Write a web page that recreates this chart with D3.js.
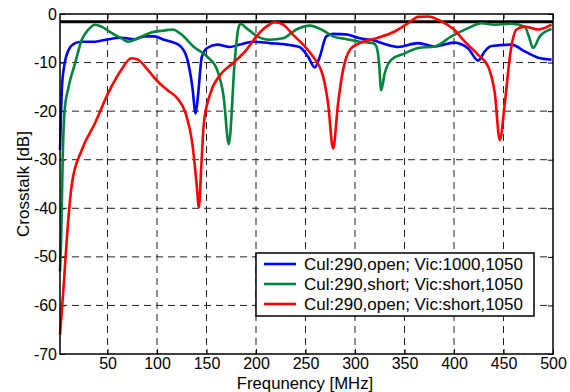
<!DOCTYPE html>
<html>
<head>
<meta charset="utf-8">
<script src="https://cdn.jsdelivr.net/npm/d3@7"></script>
<style>
  body { margin: 0; background: #fff; }
  text { font-family: "Liberation Sans", Arial, sans-serif; }
</style>
</head>
<body>
<div id="chart"></div>
<script>
// frequency [MHz] / crosstalk [dB]
var blueF = [2, 4, 6, 10.7, 17.3, 24, 37.3, 50.7, 64, 77.3, 87.3, 97.3, 107, 117, 124, 130.7, 135.7, 139, 141.3, 145.3, 150.7, 160.7, 173.5, 183.6, 197, 214, 231, 244, 252.6, 259.4, 264.4, 271, 278, 291, 304.8, 318.3, 331.7, 343.6, 363.8, 380.6, 400, 414.3, 424.4, 431, 437.8, 458, 471.5, 485, 498.5];
var blueDb = [-28, -15, -11, -7.4, -6.0, -5.7, -5.7, -5.2, -4.9, -5.2, -4.6, -4.6, -5.3, -5.9, -6.7, -9.4, -15, -20.5, -17, -8.8, -7, -6.3, -6.8, -6.3, -5.7, -6.0, -6.3, -6.8, -8.8, -11, -8.8, -4.6, -4.1, -4.2, -5.0, -5.4, -6.3, -6.8, -6.0, -6.7, -5.9, -7.1, -9.6, -7.7, -6.6, -6.3, -7.7, -9, -9.4];

var greenF = [2, 3.3, 4.7, 6.7, 10.7, 17.3, 24, 30.7, 37.3, 44, 54, 64, 70.7, 80.7, 94, 107.3, 115.7, 124, 137.3, 150.7, 160.7, 167.3, 172.5, 178.6, 181.9, 184.3, 190.3, 200.4, 213.9, 227.4, 240.8, 254.3, 267.8, 277.9, 291.4, 304.8, 318.3, 321.6, 324.3, 326.4, 330, 336.8, 350.3, 363.8, 380.6, 397.4, 414.3, 427.7, 441.2, 458, 471.5, 475.6, 479.9, 486.7, 498.5];
var greenDb = [-53, -45, -30, -19.8, -15, -10.1, -5.3, -3.2, -2.2, -2.6, -3.9, -5.0, -5.7, -5.0, -3.8, -3.4, -3.2, -4.1, -6.8, -8.8, -11.5, -17, -26.8, -9.4, -3.2, -2.0, -2.9, -4.5, -5.3, -5.0, -3.2, -2.4, -3.4, -4.6, -5.2, -5.7, -6.0, -6.7, -10.1, -15.7, -12.2, -9.4, -8.1, -7.0, -6.7, -4.6, -2.9, -1.9, -2.2, -2.0, -2.6, -4.6, -7.0, -4.6, -3.1];

var redF = [2, 5.7, 9, 14, 24, 37.3, 50.7, 64, 74, 80.7, 90.7, 100.7, 110.7, 120.7, 129, 135.7, 140, 142.3, 144.7, 147.3, 154, 164, 176.9, 190.3, 200.4, 210.5, 218.9, 227.4, 237.5, 247.6, 257.7, 267.8, 272.8, 277.9, 282.9, 288, 294.7, 304.8, 321.6, 340, 353.7, 363.8, 373.9, 387.3, 400, 410.9, 424.4, 434.5, 441.2, 446.3, 451.3, 457.4, 463.1, 471.5, 485, 498.5];
var redDb = [-66, -56, -46, -35, -28, -22.5, -16.3, -11.5, -9.1, -9.4, -11.5, -13.9, -15.7, -17.4, -20.5, -26.7, -35, -39.8, -31.5, -22.5, -16.3, -12.5, -10.1, -7.4, -4.6, -2.6, -1.7, -2.2, -4.3, -6.3, -8.8, -12.9, -18.4, -27.7, -18.4, -11.5, -7.4, -6.0, -5.0, -3.6, -1.9, -0.6, -0.5, -1.5, -3.2, -5.7, -8.4, -10.8, -16.3, -26, -18.4, -7.4, -3.2, -2.6, -3.2, -2.2];

var limitDb = -1.6;

var seriesNames = ["Cul:290,open; Vic:1000,1050", "Cul:290,short; Vic:short,1050", "Cul:290,open; Vic:short,1050"];
var seriesColors = ["#0000ff", "#00843d", "#ff0000"];

var xTicks = [50, 100, 150, 200, 250, 300, 350, 400, 450, 500];
var yTicks = [0, -10, -20, -30, -40, -50, -60, -70];

var margin = { top: 14, right: 17, bottom: 38, left: 60 },
    width = 570 - margin.left - margin.right,
    height = 392 - margin.top - margin.bottom;

var x = d3.scaleLinear().domain([2, 500]).range([0, width]);
var y = d3.scaleLinear().domain([-70, 0]).range([height, 0]);

var svg = d3.select("#chart").append("svg")
    .attr("width", 570)
    .attr("height", 392)
    .append("g")
    .attr("transform", "translate(" + margin.left + "," + margin.top + ")");

// dashed grid
svg.selectAll(".vgrid")
    .data(xTicks.slice(0, -1))
    .enter().append("line")
    .attr("x1", function (d) { return x(d); })
    .attr("x2", function (d) { return x(d); })
    .attr("y1", 0).attr("y2", height)
    .attr("stroke", "#222").attr("stroke-width", 1)
    .attr("stroke-dasharray", "7,5");
svg.selectAll(".hgrid")
    .data(yTicks.slice(1, -1))
    .enter().append("line")
    .attr("y1", function (d) { return y(d); })
    .attr("y2", function (d) { return y(d); })
    .attr("x1", 0).attr("x2", width)
    .attr("stroke", "#222").attr("stroke-width", 1)
    .attr("stroke-dasharray", "7,5");

// axes
svg.append("g")
    .attr("transform", "translate(0," + height + ")")
    .call(d3.axisBottom(x).tickValues(xTicks).tickSize(-5).tickPadding(4));
svg.append("g")
    .call(d3.axisLeft(y).tickValues(yTicks).tickSize(-5).tickPadding(3)
        .tickFormat(function (d) { return d; }));
svg.append("g")
    .attr("transform", "translate(" + width + ",0)")
    .call(d3.axisRight(y).tickValues(yTicks).tickSize(-5).tickFormat(""));
svg.append("g")
    .call(d3.axisTop(x).tickValues(xTicks).tickSize(-5).tickFormat(""));
svg.selectAll(".domain").remove();
svg.selectAll(".tick line").attr("stroke", "#000");
svg.selectAll(".tick text").attr("font-size", 16).attr("fill", "#000")
    .style("font-family", "'Liberation Sans', Arial, sans-serif");

// reference line
svg.append("line")
    .attr("x1", 0).attr("x2", width)
    .attr("y1", y(limitDb)).attr("y2", y(limitDb))
    .attr("stroke", "#000").attr("stroke-width", 3);

// series
var line = d3.line()
    .x(function (d) { return x(d[0]); })
    .y(function (d) { return y(d[1]); })
    .curve(d3.curveMonotoneX);

var series = [d3.zip(blueF, blueDb), d3.zip(greenF, greenDb), d3.zip(redF, redDb)];
svg.append("g").selectAll("path")
    .data(series)
    .enter().append("path")
    .attr("d", line)
    .attr("fill", "none")
    .attr("stroke", function (d, i) { return seriesColors[i]; })
    .attr("stroke-width", 2.6)
    .attr("stroke-linejoin", "round");

// frame
svg.append("rect")
    .attr("width", width).attr("height", height)
    .attr("fill", "none").attr("stroke", "#000").attr("stroke-width", 1.5);

// legend
var legend = svg.append("g").attr("transform", "translate(" + (256 - margin.left) + "," + (253 - margin.top) + ")");
legend.append("rect")
    .attr("width", 278).attr("height", 63)
    .attr("fill", "#fff").attr("stroke", "#000").attr("stroke-width", 1.5);
seriesNames.forEach(function (name, i) {
    legend.append("line")
        .attr("x1", 8).attr("x2", 40)
        .attr("y1", 11 + i * 20).attr("y2", 11 + i * 20)
        .attr("stroke", seriesColors[i]).attr("stroke-width", 2.6);
    legend.append("text")
        .attr("x", 48).attr("y", 17 + i * 20)
        .attr("font-size", 17)
        .text(name);
});

// axis labels
svg.append("text")
    .attr("x", 305 - margin.left).attr("y", 389 - margin.top)
    .attr("text-anchor", "middle").attr("font-size", 16.7)
    .text("Frequnency [MHz]");
svg.append("text")
    .attr("transform", "translate(" + (29 - margin.left) + "," + (184 - margin.top) + ") rotate(-90)")
    .attr("text-anchor", "middle").attr("font-size", 17)
    .text("Crosstalk [dB]");
</script>
</body>
</html>
